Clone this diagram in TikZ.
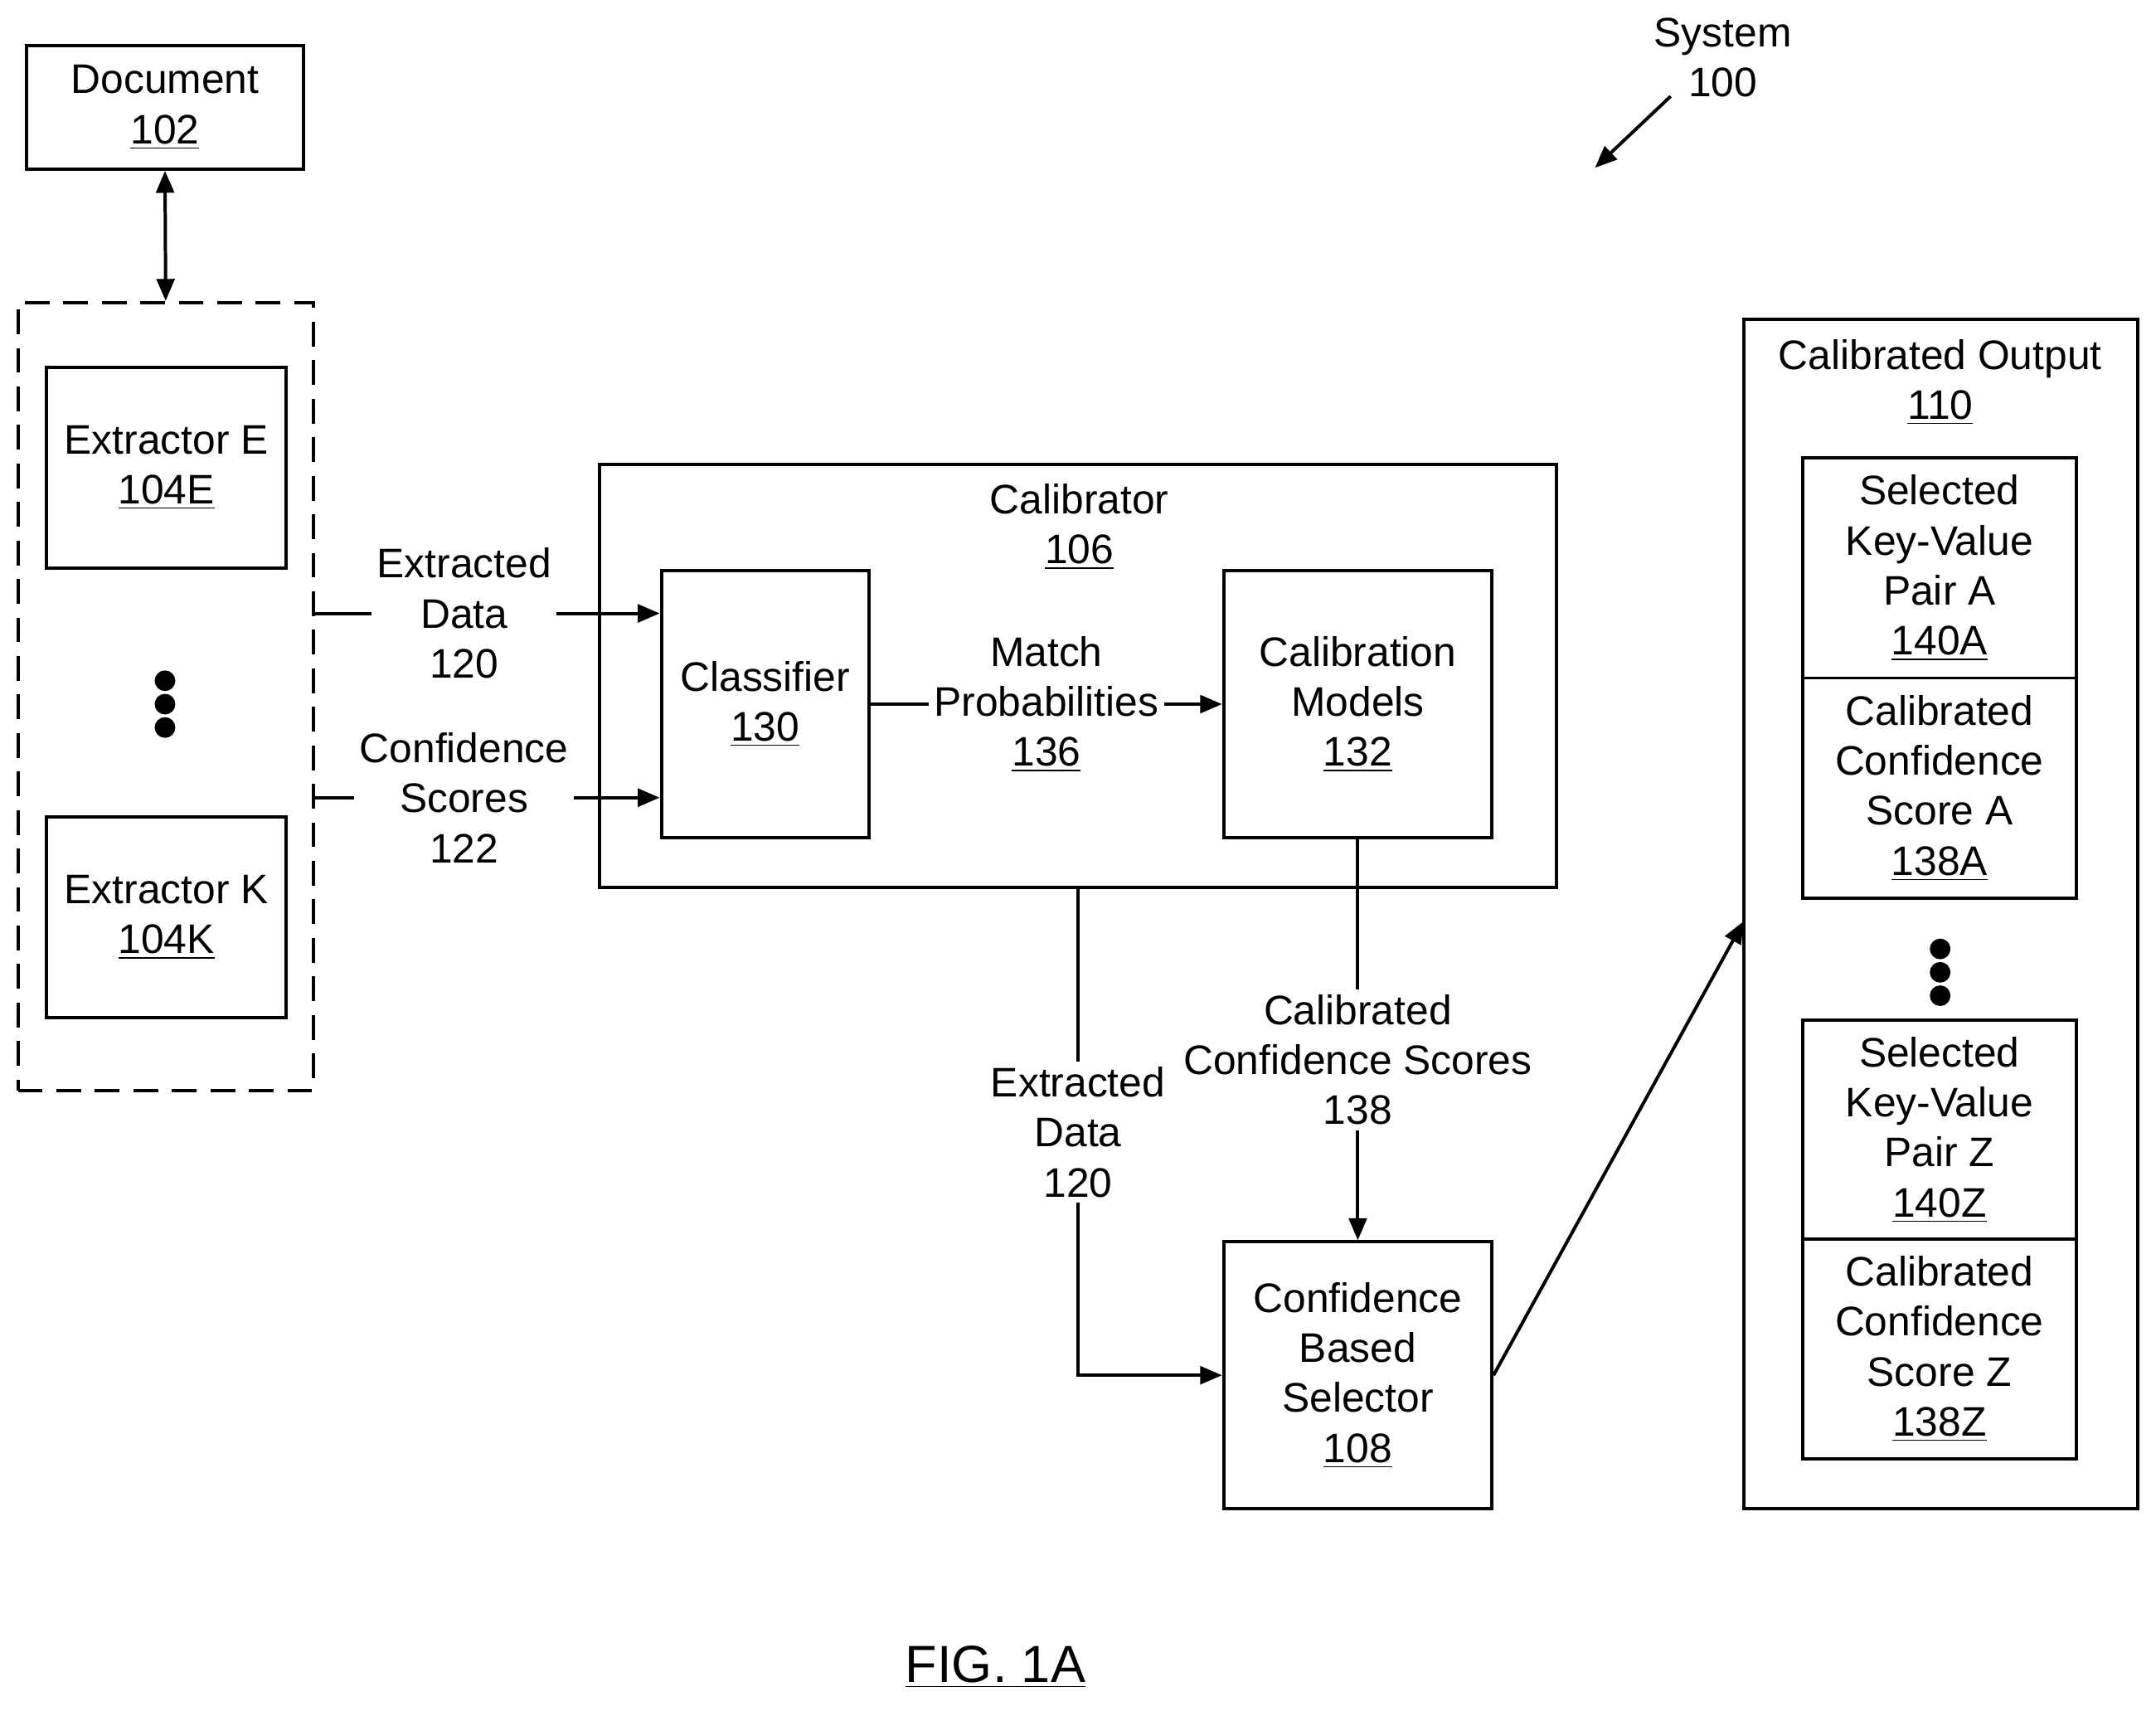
\documentclass[tikz,border=0pt]{standalone}
\usepackage{fontspec}
\setmainfont{Liberation Sans}
\usetikzlibrary{positioning,arrows.meta}
\tikzset{
  box/.style={draw, line width=1.2pt, inner sep=0pt, align=center},
  lbl/.style={align=center, fill=white, inner sep=2pt},
  conn/.style={line width=1.2pt, -{Stealth[length=8pt,width=6.5pt,inset=0pt]}},
  dot/.style={circle, fill, inner sep=0pt, minimum size=7.5pt}
}
\newcommand{\un}[1]{\underline{#1}}
\begin{document}
\begin{tikzpicture}[x=0.5pt, y=-0.5pt, font=\fontsize{15}{18.2}\selectfont]
\useasboundingbox (0,0) rectangle (1568,1244);
% document and extractors
\node[box, minimum width=100.5pt, minimum height=45pt] (doc) at (120,78) {Document\\\un{102}};
\node[box, dash pattern=on 9pt off 5pt, minimum width=107.5pt, minimum height=286.5pt] (ext) at (120.5,506.5) {};
\node[box, minimum width=87pt, minimum height=73pt] (extE) at (121,340) {Extractor E\\\un{104E}};
\node[box, minimum width=87pt, minimum height=73pt] (extK) at (121,667) {Extractor K\\\un{104K}};
\foreach \y in {495,512,529} \node[dot] at (120,\y) {};
\draw[line width=1.2pt, {Stealth[length=8pt,width=6.5pt,inset=0pt]}-{Stealth[length=8pt,width=6.5pt,inset=0pt]}] (doc.south) -- (ext.north);
% calibrator
\node[box, minimum width=348pt, minimum height=153.5pt] (cal) at (784,491.5) {};
\node[align=center] (calT) at (785,383) {Calibrator\\\un{106}};
\node[box, minimum width=75.5pt, minimum height=97pt] (cls) at (556.5,512) {Classifier\\\un{130}};
\node[box, minimum width=97.5pt, minimum height=97pt] (cm) at (987.5,512) {Calibration\\Models\\\un{132}};
\draw[conn] (cls.east) -- node[lbl] {Match\\Probabilities\\\un{136}} (cm.west);
\coordinate (e1) at (228,446);
\coordinate (e2) at (228,580);
\draw[conn] (e1) -- node[lbl, pos=0.435] {Extracted\\Data\\120} (e1 -| cls.west);
\draw[conn] (e2) -- node[lbl, pos=0.435] {Confidence\\Scores\\122} (e2 -| cls.west);
% selector
\node[box, minimum width=97.5pt, minimum height=97pt] (sel) at (987.5,1000) {Confidence\\Based\\Selector\\\un{108}};
\draw[conn] (cal.south) -- node[lbl, pos=0.5] {Extracted\\Data\\120} (cal.south |- sel.west) -- (sel.west);
\draw[conn] (cm.south) -- node[lbl, pos=0.55] {Calibrated\\Confidence Scores\\138} (sel.north);
% calibrated output
\node[box, minimum width=143.5pt, minimum height=432.5pt] (out) at (1411.5,664.5) {};
\node[align=center] (outT) at (1411,278) {Calibrated Output\\\un{110}};
\node[box, minimum width=99.5pt, minimum height=80pt] (kvA) at (1410.5,413) {Selected\\Key-Value\\Pair A\\\un{140A}};
\node[box, minimum width=99.5pt, minimum height=80pt] (ccA) at (1410.5,573) {Calibrated\\Confidence\\Score A\\\un{138A}};
\foreach \y in {690,707,724} \node[dot] at (1411,\y) {};
\node[box, minimum width=99.5pt, minimum height=79.5pt] (kvZ) at (1410.5,821.5) {Selected\\Key-Value\\Pair Z\\\un{140Z}};
\node[box, minimum width=99.5pt, minimum height=80pt] (ccZ) at (1410.5,981) {Calibrated\\Confidence\\Score Z\\\un{138Z}};
\coordinate (outIn) at (1268,670);
\draw[conn] (sel.east) -- (outIn);
% system label
\node[align=center] (sys) at (1253,42) {System\\100};
\coordinate (sysA) at (1215,70);
\coordinate (sysB) at (1160,122);
\draw[conn] (sysA) -- (sysB);
\node[font=\fontsize{19}{22}\selectfont] (fig) at (724,1212) {\un{FIG. 1A}};
\end{tikzpicture}
\end{document}
